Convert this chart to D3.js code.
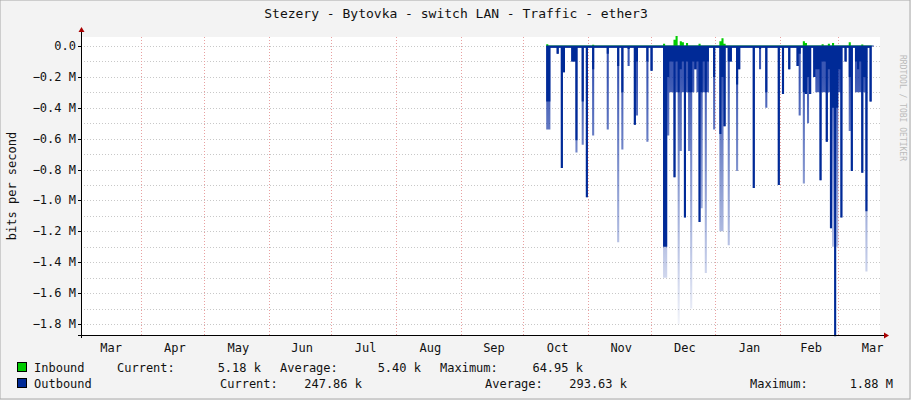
<!DOCTYPE html>
<html><head><meta charset="utf-8">
<script src="https://cdn.jsdelivr.net/npm/d3@7/dist/d3.min.js"></script>
<style>body{margin:0;background:#f3f3f3}svg{display:block}text{font-family:"DejaVu Sans Mono",monospace}</style>
</head><body><svg id="c" width="911" height="400"></svg>
<script>
// Outbound spikes: date, solid value (M bits/s), peak value (M bits/s)
const spikeDates = ["2024-10-12","2024-10-13","2024-10-17","2024-10-19","2024-10-20","2024-10-24","2024-10-25","2024-10-26","2024-10-29","2024-10-31",
"2024-11-03","2024-11-10","2024-11-15","2024-11-17","2024-11-20","2024-11-23","2024-11-24","2024-11-29","2024-12-01",
"2024-12-07","2024-12-08","2024-12-09","2024-12-10","2024-12-11","2024-12-12","2024-12-13","2024-12-14","2024-12-15","2024-12-16","2024-12-17","2024-12-18","2024-12-19","2024-12-20","2024-12-21","2024-12-22","2024-12-23","2024-12-24","2024-12-25","2024-12-26","2024-12-27","2024-12-28","2024-12-31",
"2025-01-03","2025-01-04","2025-01-05","2025-01-07","2025-01-08","2025-01-11","2025-01-12","2025-01-19","2025-01-22","2025-01-25","2025-01-31",
"2025-02-02","2025-02-05","2025-02-09","2025-02-10","2025-02-12","2025-02-13","2025-02-14","2025-02-15","2025-02-17","2025-02-18","2025-02-19","2025-02-20","2025-02-21","2025-02-22","2025-02-23","2025-02-24","2025-02-25","2025-02-26","2025-02-27","2025-02-28","2025-03-01","2025-03-02","2025-03-04","2025-03-06","2025-03-07","2025-03-09","2025-03-10","2025-03-11","2025-03-12","2025-03-13","2025-03-14","2025-03-16"];
const outSolid = [0.36,0.36,0.05,0.79,0.17,0.10,0.10,0.61,0.36,0.98,
0.15,0.05,0.13,0.30,0.02,0.51,0.10,0.10,0.16,
1.30,1.30,0.20,0.10,0.10,0.85,0.10,0.30,0.15,0.10,1.11,0.10,0.30,0.30,0.10,0.15,0.10,1.14,0.30,0.10,0.30,0.10,0.20,
0.57,0.20,0.52,0.10,0.10,0.25,0.15,0.92,0.02,0.30,0.90,
0.31,0.15,0.13,0.05,0.30,0.31,0.20,0.31,0.20,0.15,0.15,0.87,0.10,0.10,0.62,0.15,1.18,0.40,1.88,0.40,0.15,1.11,0.10,0.20,0.81,0.10,0.15,0.10,0.82,0.20,1.07,0.36];
const outPeak = [0.54,0.54,0.05,0.79,0.17,0.10,0.10,0.69,0.64,0.98,
0.58,0.54,1.27,0.67,0.13,0.51,0.45,0.62,0.16,
1.50,1.50,0.58,0.30,0.30,0.85,0.30,1.80,0.68,0.30,1.11,0.30,0.68,1.70,0.30,0.15,0.30,1.14,1.05,0.30,1.47,0.30,0.54,
1.20,1.20,0.52,1.29,0.10,0.81,0.15,0.92,0.15,0.40,0.90,
0.31,0.15,0.13,0.45,0.89,0.31,0.50,0.31,0.20,0.30,0.30,0.87,0.30,0.30,0.62,0.30,1.18,1.30,1.88,1.30,0.30,1.11,0.10,0.55,0.81,0.30,0.30,0.30,0.82,0.30,1.46,0.36];
const inDates = ["2024-10-12","2024-11-03","2024-12-07","2024-12-12","2024-12-13","2024-12-15","2024-12-16","2024-12-18","2024-12-24","2025-01-03","2025-01-04","2025-01-05","2025-02-12","2025-02-13","2025-02-21","2025-02-24","2025-02-26","2025-03-06","2025-03-12"];
const inVals = [0.012,0.008,0.015,0.040,0.065,0.030,0.025,0.020,0.015,0.030,0.050,0.015,0.030,0.020,0.012,0.015,0.020,0.025,0.010];
const dataStart = "2024-10-12", dataEnd = "2025-03-17";
const yTicks = [0,-0.2,-0.4,-0.6,-0.8,-1.0,-1.2,-1.4,-1.6,-1.8];
const monthLabels = ["Mar","Apr","May","Jun","Jul","Aug","Sep","Oct","Nov","Dec","Jan","Feb","Mar"];

const svg = d3.select("#c");
const pd = d3.utcParse("%Y-%m-%d");
const L=81,R=880,T=37,B=335;
const x = d3.scaleUtc().domain([pd("2024-03-03"),pd("2025-03-21")]).range([L,R]);
const y = d3.scaleLinear().domain([0,-1.8]).range([46,324]);

svg.append("rect").attr("x",L).attr("y",T).attr("width",R-L).attr("height",B-T).attr("fill","#fff");
svg.append("rect").attr("x",0).attr("y",0).attr("width",910).attr("height",399).attr("fill","none").attr("stroke","#a8a8a8");
d3.range(0,-1.85,-0.1).forEach(v=>{
  svg.append("line").attr("x1",L).attr("x2",R).attr("y1",Math.round(y(v))+.5).attr("y2",Math.round(y(v))+.5)
    .attr("stroke","#c8c8c8").attr("stroke-dasharray","1,2");
});
const months = d3.utcMonth.range(pd("2024-03-04"),pd("2025-03-21"));
months.forEach(m=>{
  const xx=Math.round(x(m))+.5;
  svg.append("line").attr("x1",xx).attr("x2",xx).attr("y1",T).attr("y2",B).attr("stroke","#e8a0a0").attr("stroke-dasharray","1,2");
});
const days = d3.utcDay.range(pd(dataStart),d3.utcDay.offset(pd(dataEnd),1));
const sm=new Map(spikeDates.map((d,i)=>[d,i]));
const im=new Map(inDates.map((d,i)=>[d,i]));
const fmt=d3.utcFormat("%Y-%m-%d");
const series = days.map(d=>{const k=fmt(d);const i=sm.get(k);const j=im.get(k);
  return {d, s: i==null?0.012:outSolid[i], p: i==null?0.012:outPeak[i], inb: j==null?0.003:inVals[j]};});
const defs=svg.append("defs");
const g=defs.append("linearGradient").attr("id","fade").attr("gradientUnits","userSpaceOnUse").attr("x1",0).attr("x2",0).attr("y1",y(-0.2)).attr("y2",y(-1.8));
g.append("stop").attr("offset",0).attr("stop-color","#0a2da0").attr("stop-opacity",0.8);
g.append("stop").attr("offset",1).attr("stop-color","#0a2da0").attr("stop-opacity",0.05);
const area=(f)=>d3.area().x(d=>x(d.d)).y0(y(0)).y1(f).curve(d3.curveStepAfter);
svg.append("path").datum(series).attr("d",area(d=>y(-d.p))).attr("fill","url(#fade)");
svg.append("path").datum(series).attr("d",area(d=>y(-d.s))).attr("fill","#002a97");
svg.append("path").datum(series).attr("d",area(d=>y(d.inb))).attr("fill","#00cc00");
svg.append("line").attr("x1",x(pd(dataStart))).attr("x2",x(d3.utcDay.offset(pd(dataEnd),1))).attr("y1",y(0)).attr("y2",y(0)).attr("stroke","#002a97");
svg.append("line").attr("x1",L-3).attr("x2",R+4).attr("y1",B+.5).attr("y2",B+.5).attr("stroke","#000");
svg.append("line").attr("x1",L+.5).attr("x2",L+.5).attr("y1",B+3).attr("y2",T-6).attr("stroke","#000");
svg.append("path").attr("d",`M${R+4},${B-2.5}L${R+9},${B+.5}L${R+4},${B+3.5}Z`).attr("fill","#a00");
svg.append("path").attr("d",`M${L-2.5},${T-5}L${L+.5},${T-10}L${L+3.5},${T-5}Z`).attr("fill","#a00");
yTicks.forEach(v=>{
  svg.append("line").attr("x1",L-3).attr("x2",L).attr("y1",Math.round(y(v))+.5).attr("y2",Math.round(y(v))+.5).attr("stroke","#000");
  svg.append("text").attr("x",76).attr("y",y(v)+4).attr("text-anchor","end").attr("font-size",12).attr("fill","#111")
    .text(v===0?"0.0":d3.format(".1f")(v)+" M");
});
const allMonths=[pd("2024-03-03")].concat(months);
allMonths.forEach((m,i)=>{
  const e=i+1<allMonths.length?allMonths[i+1]:d3.utcMonth.offset(m,1);
  const s=i===0?pd("2024-03-01"):m;
  svg.append("text").attr("x",x(new Date((+s + +e)/2))+2).attr("y",352).attr("text-anchor","middle").attr("font-size",12).attr("fill","#111").text(monthLabels[i]);
});
svg.append("text").attr("x",456).attr("y",18).attr("text-anchor","middle").attr("font-size",13).attr("fill","#111").text("Stezery - Bytovka - switch LAN - Traffic - ether3");
svg.append("text").attr("transform","translate(16,186) rotate(-90)").attr("text-anchor","middle").attr("font-size",12).attr("fill","#111").text("bits per second");
svg.append("text").attr("transform","translate(900,55) rotate(90)").attr("font-size",8).attr("fill","#bbb").text("RRDTOOL / TOBI OETIKER");
const leg=[[17,362,"#00cc00"],[17,378,"#002a97"]];
leg.forEach(l=>svg.append("rect").attr("x",l[0]+.5).attr("y",l[1]+.5).attr("width",9).attr("height",9).attr("fill",l[2]).attr("stroke","#000"));
const T1=[[34,"start","Inbound"],[117,"start","Current:"],[261,"end","5.18 k"],[280,"start","Average:"],[421,"end","5.40 k"],[440,"start","Maximum:"],[583,"end","64.95 k"]];
const T2=[[34,"start","Outbound"],[220,"start","Current:"],[362,"end","247.86 k"],[485,"start","Average:"],[627,"end","293.63 k"],[750,"start","Maximum:"],[893,"end","1.88 M"]];
T1.forEach(t=>svg.append("text").attr("x",t[0]).attr("y",372).attr("text-anchor",t[1]).attr("font-size",12).attr("fill","#111").text(t[2]));
T2.forEach(t=>svg.append("text").attr("x",t[0]).attr("y",388).attr("text-anchor",t[1]).attr("font-size",12).attr("fill","#111").text(t[2]));
</script></body></html>
